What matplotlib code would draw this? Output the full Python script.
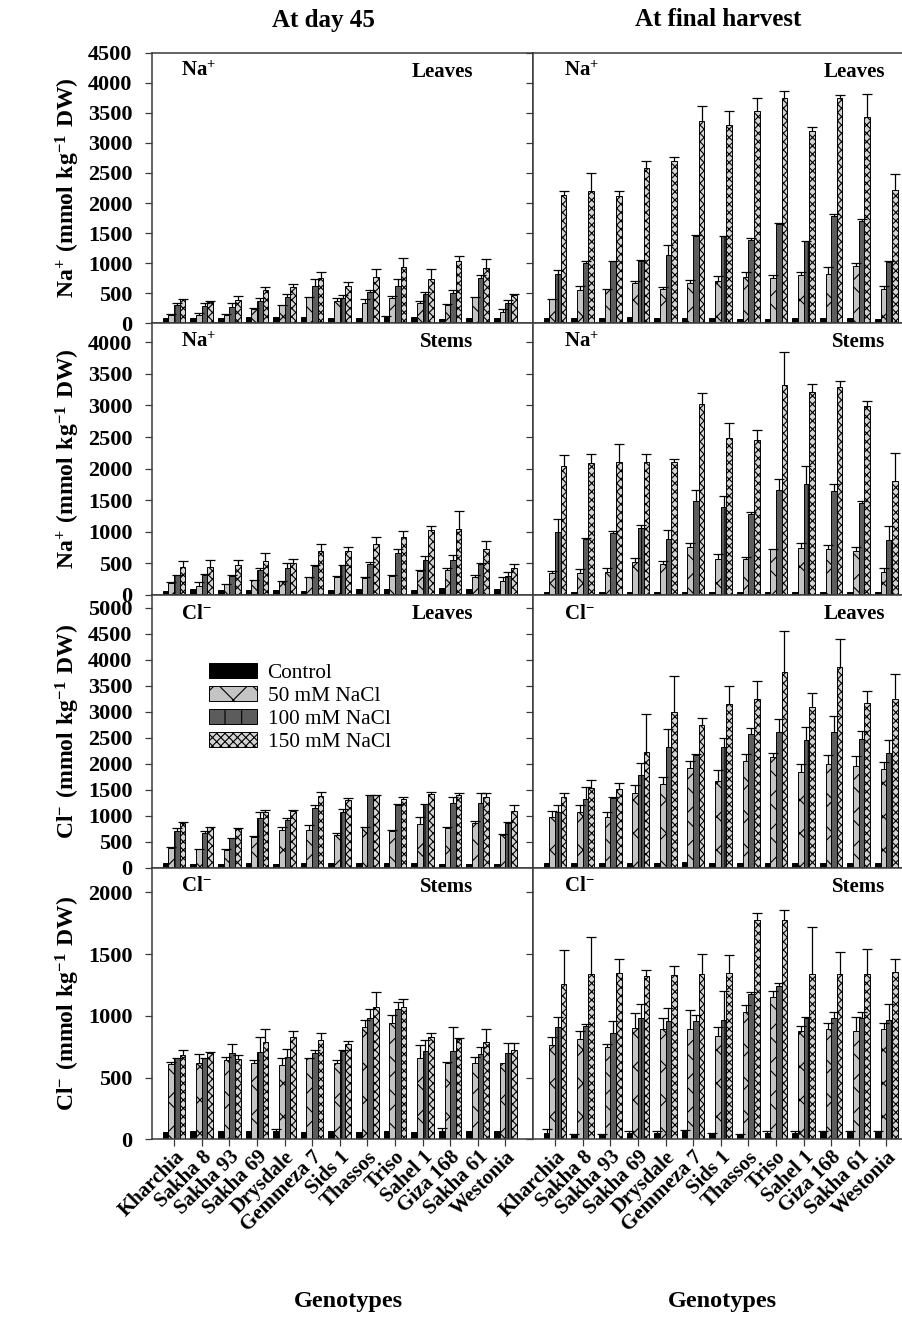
import numpy as np
import matplotlib
matplotlib.use("Agg")
import matplotlib.pyplot as plt
from matplotlib.patches import Patch
from matplotlib.transforms import ScaledTranslation

plt.rcParams['font.family'] = ['Liberation Serif', 'DejaVu Serif']
plt.rcParams['mathtext.fontset'] = 'custom'
plt.rcParams['mathtext.rm'] = 'Liberation Serif'
plt.rcParams['mathtext.bf'] = 'Liberation Serif:bold'
plt.rcParams['hatch.linewidth'] = 0.8

genotypes = ['Kharchia', 'Sakha 8', 'Sakha 93', 'Sakha 69', 'Drysdale', 'Gemmeza 7',
             'Sids 1', 'Thassos', 'Triso', 'Sahel 1', 'Giza 168', 'Sakha 61', 'Westonia']
treatments = ['Control', '50 mM NaCl', '100 mM NaCl', '150 mM NaCl']

# Na+ leaves, day 45  (means / standard errors, control, 50, 100, 150 mM)
na_leaf_d45 = [[80, 80, 80, 100, 100, 110, 95, 95, 100, 100, 65, 95, 95],
               [140, 140, 140, 230, 300, 435, 375, 330, 415, 340, 305, 440, 190],
               [305, 290, 275, 370, 435, 625, 425, 525, 620, 485, 510, 755, 330],
               [400, 360, 385, 550, 600, 760, 620, 775, 930, 740, 1030, 915, 465]]
na_leaf_d45_se = [[0, 0, 0, 0, 0, 0, 0, 0, 20, 0, 0, 0, 0],
                  [15, 35, 10, 20, 5, 5, 45, 70, 40, 35, 10, 5, 40],
                  [25, 55, 55, 45, 60, 115, 45, 30, 110, 35, 50, 50, 55],
                  [10, 5, 65, 55, 60, 85, 75, 130, 150, 165, 90, 150, 30]]

# Na+ leaves, final harvest
na_leaf_fin = [[90, 90, 90, 100, 90, 90, 80, 75, 75, 90, 80, 85, 75],
               [400, 560, 570, 670, 575, 670, 700, 770, 760, 810, 825, 955, 575],
               [825, 1010, 1030, 1040, 1135, 1455, 1455, 1390, 1650, 1370, 1790, 1700, 1020],
               [2130, 2200, 2110, 2590, 2700, 3360, 3300, 3530, 3750, 3200, 3740, 3430, 2225]]
na_leaf_fin_se = [[0, 0, 0, 0, 0, 0, 0, 0, 0, 0, 0, 0, 0],
                  [5, 55, 5, 30, 30, 55, 90, 80, 40, 40, 110, 55, 40],
                  [55, 20, 5, 20, 175, 15, 5, 25, 20, 5, 35, 35, 10],
                  [70, 300, 85, 110, 65, 260, 225, 220, 120, 70, 55, 390, 250]]

# Na+ stems, day 45
na_stem_d45 = [[70, 90, 80, 80, 80, 70, 80, 90, 90, 80, 105, 90, 100],
               [190, 150, 170, 240, 215, 285, 290, 270, 305, 375, 390, 285, 215],
               [310, 310, 295, 400, 420, 455, 475, 495, 670, 550, 550, 495, 305],
               [445, 445, 480, 545, 510, 690, 690, 800, 920, 1035, 1050, 735, 435]]
na_stem_d45_se = [[0, 0, 0, 0, 0, 0, 0, 0, 0, 0, 0, 0, 0],
                  [15, 55, 5, 5, 10, 5, 5, 10, 5, 15, 35, 25, 65],
                  [10, 15, 15, 30, 90, 20, 5, 35, 55, 65, 80, 10, 65],
                  [95, 115, 80, 125, 65, 125, 65, 115, 85, 55, 280, 120, 60]]

# Na+ stems, final harvest
na_stem_fin = [[55, 55, 55, 55, 55, 55, 55, 55, 55, 55, 55, 55, 55],
               [345, 355, 360, 520, 495, 755, 565, 565, 725, 750, 725, 700, 370],
               [1000, 890, 980, 1055, 890, 1485, 1390, 1285, 1660, 1760, 1650, 1460, 870],
               [2045, 2090, 2105, 2105, 2105, 3020, 2485, 2455, 3330, 3215, 3290, 2985, 1800]]
na_stem_fin_se = [[0, 0, 0, 0, 0, 0, 0, 0, 0, 0, 0, 0, 0],
                  [40, 55, 70, 70, 50, 65, 80, 30, 10, 70, 65, 65, 55],
                  [210, 10, 30, 50, 140, 180, 170, 35, 175, 275, 105, 20, 215],
                  [165, 135, 285, 120, 45, 180, 245, 160, 510, 120, 100, 85, 455]]

# Cl- leaves, day 45
cl_leaf_d45 = [[85, 70, 70, 85, 70, 100, 85, 85, 85, 85, 70, 70, 65],
               [375, 355, 340, 600, 730, 730, 620, 775, 715, 845, 755, 855, 625],
               [710, 675, 565, 955, 920, 1145, 1070, 1390, 1200, 1225, 1245, 1245, 870],
               [870, 780, 740, 1065, 1100, 1385, 1305, 1390, 1320, 1425, 1400, 1355, 1100]]
cl_leaf_d45_se = [[0, 0, 0, 0, 0, 0, 0, 0, 0, 0, 0, 0, 0],
                  [20, 5, 15, 5, 50, 90, 55, 5, 5, 140, 35, 45, 25],
                  [55, 25, 10, 115, 40, 60, 65, 15, 35, 5, 115, 195, 5],
                  [5, 10, 15, 45, 10, 70, 45, 10, 50, 30, 30, 75, 100]]

# Cl- leaves, final harvest
cl_leaf_fin = [[95, 85, 85, 95, 95, 115, 85, 100, 95, 95, 95, 85, 85],
               [985, 1070, 985, 1435, 1615, 1920, 1675, 2055, 2130, 1840, 1995, 1960, 1900],
               [1065, 1320, 1345, 1785, 2325, 2175, 2325, 2565, 2615, 2465, 2615, 2480, 2210],
               [1360, 1535, 1515, 2220, 3000, 2750, 3160, 3250, 3775, 3085, 3865, 3175, 3250]]
cl_leaf_fin_se = [[0, 0, 0, 0, 0, 0, 0, 0, 0, 0, 0, 0, 0],
                  [105, 130, 95, 150, 130, 130, 200, 140, 85, 150, 170, 185, 130],
                  [140, 225, 25, 225, 340, 10, 180, 125, 245, 245, 305, 150, 245],
                  [75, 145, 115, 730, 690, 135, 335, 335, 790, 285, 545, 230, 470]]

# Cl- stems, day 45
cl_stem_d45 = [[60, 68, 68, 68, 70, 60, 68, 60, 65, 62, 68, 68, 65],
               [610, 615, 645, 620, 605, 655, 615, 910, 945, 655, 615, 615, 615],
               [655, 655, 695, 705, 670, 700, 715, 980, 1055, 715, 715, 690, 700],
               [685, 700, 650, 785, 825, 805, 770, 1075, 1075, 825, 815, 785, 720]]
cl_stem_d45_se = [[0, 0, 0, 0, 10, 0, 0, 0, 0, 0, 22, 0, 0],
                  [20, 75, 20, 25, 55, 5, 25, 55, 60, 105, 15, 50, 0],
                  [5, 5, 80, 120, 60, 20, 5, 75, 55, 90, 195, 55, 80],
                  [35, 5, 30, 105, 55, 55, 30, 120, 60, 35, 5, 110, 60]]

# Cl- stems, final harvest
cl_stem_fin = [[50, 40, 40, 55, 55, 65, 50, 40, 55, 55, 60, 60, 60],
               [760, 815, 750, 900, 890, 895, 840, 1035, 1155, 880, 890, 875, 890],
               [910, 915, 865, 980, 960, 960, 965, 1175, 1245, 985, 985, 985, 965],
               [1255, 1340, 1345, 1325, 1330, 1335, 1350, 1780, 1780, 1340, 1340, 1340, 1355]]
cl_stem_fin_se = [[30, 5, 5, 10, 10, 10, 5, 5, 10, 10, 10, 10, 10],
                  [70, 60, 25, 120, 95, 150, 70, 50, 50, 35, 55, 115, 55],
                  [80, 20, 90, 115, 105, 50, 235, 20, 25, 5, 45, 50, 130],
                  [275, 295, 115, 45, 75, 165, 140, 50, 75, 380, 180, 200, 105]]

panels = [
    [(na_leaf_d45, na_leaf_d45_se), (na_leaf_fin, na_leaf_fin_se)],
    [(na_stem_d45, na_stem_d45_se), (na_stem_fin, na_stem_fin_se)],
    [(cl_leaf_d45, cl_leaf_d45_se), (cl_leaf_fin, cl_leaf_fin_se)],
    [(cl_stem_d45, cl_stem_d45_se), (cl_stem_fin, cl_stem_fin_se)],
]
ion_names = [r'$\mathbf{Na^{+}}$', r'$\mathbf{Na^{+}}$', r'$\mathbf{Cl^{-}}$', r'$\mathbf{Cl^{-}}$']
organs = ['Leaves', 'Stems', 'Leaves', 'Stems']
ylabels = [r'$\mathbf{Na^{+}\ (mmol\ kg^{-1}\ DW)}$', r'$\mathbf{Na^{+}\ (mmol\ kg^{-1}\ DW)}$',
           r'$\mathbf{Cl^{-}\ (mmol\ kg^{-1}\ DW)}$', r'$\mathbf{Cl^{-}\ (mmol\ kg^{-1}\ DW)}$']
ymax = [4500, 4300, 5250, 2200]
ytop_tick = [4500, 4000, 5000, 2000]

# bar styles
face = ['black', '#c4c4c4', '#5c5c5c', '#d4d4d4']
hatch = [None, 'x', '|', 'xxxx']

W, H = 903, 1319
fig = plt.figure(figsize=(W / 100, H / 100), dpi=100)

rows_px = [(52.7, 323.3), (323.3, 595.0), (595.0, 867.7), (867.7, 1139.3)]
cols_px = [152, 533]
ax_w = 381

x = np.arange(len(genotypes))
bw = 0.205
offs = (np.arange(4) - 1.5) * bw

for r in range(4):
    top, bot = rows_px[r]
    for c in range(2):
        ax = fig.add_axes([cols_px[c] / W, 1 - bot / H, ax_w / W, (bot - top) / H])
        means, ses = panels[r][c]
        for k in range(4):
            m = np.array(means[k], dtype=float)
            s = np.array(ses[k], dtype=float)
            ax.bar(x + offs[k], m, width=bw, color=face[k], edgecolor='black',
                   linewidth=0.7, hatch=hatch[k], zorder=2)
            ok = s > 0
            if ok.any():
                eb = ax.errorbar(x[ok] + offs[k], m[ok], yerr=[np.zeros(ok.sum()), s[ok]],
                                 fmt='none', ecolor='black', elinewidth=0.9,
                                 capsize=3.6, capthick=0.9, zorder=3)
                eb[1][0].set_visible(False)
        ax.set_xlim(-0.8, 13.0)
        ax.set_ylim(0, ymax[r])
        ax.set_yticks(np.arange(0, ytop_tick[r] + 1, 500))
        for sp in ax.spines.values():
            sp.set_color('#3a3a3a')
            sp.set_linewidth(1.1)
        ax.tick_params(axis='y', direction='out', length=5, width=0.9, pad=9,
                       labelsize=16, color='#3a3a3a')
        for lab in ax.get_yticklabels():
            lab.set_fontweight('bold')
        if c == 1:
            ax.tick_params(axis='y', labelleft=False)
        if r == 3:
            ax.set_xticks(x)
            ax.set_xticklabels(genotypes, rotation=45, ha='right', va='top',
                               rotation_mode='anchor', fontsize=15, fontweight='bold')
            ax.tick_params(axis='x', direction='out', length=5, width=0.9, pad=2,
                           color='#3a3a3a')
            off = ScaledTranslation(0.0, 0.02, fig.dpi_scale_trans)
            for lab in ax.get_xticklabels():
                lab.set_transform(lab.get_transform() + off)
        else:
            ax.set_xticks([])

        ion_x = 0.076 if c == 0 else 0.081
        org_x = 0.843 if c == 0 else 0.924
        ax.text(ion_x, 0.93, ion_names[r], transform=ax.transAxes, ha='left',
                va='center', fontsize=15)
        ax.text(org_x, 0.93, organs[r], transform=ax.transAxes, ha='right',
                va='center', fontsize=15, fontweight='bold')

        if r == 2 and c == 0:
            handles = [Patch(facecolor=face[k], edgecolor='black', hatch=hatch[k],
                             linewidth=0.7) for k in range(4)]
            ax.legend(handles, treatments, loc='upper left',
                      bbox_to_anchor=(0.15, 0.75), frameon=False, fontsize=15.3,
                      handlelength=2.25, handleheight=0.7, handletextpad=0.5,
                      labelspacing=0.15, borderpad=0, borderaxespad=0)

    fig.text(68 / W, 1 - (top + bot) / 2 / H, ylabels[r], rotation=90,
             ha='center', va='center', fontsize=17)

fig.text(323 / W, 1 - 20 / H, 'At day 45', ha='center', va='center',
         fontsize=18, fontweight='bold')
fig.text(718 / W, 1 - 20 / H, 'At final harvest', ha='center', va='center',
         fontsize=18, fontweight='bold')
fig.text(348 / W, 1 - 1301 / H, 'Genotypes', ha='center', va='center',
         fontsize=17.5, fontweight='bold')
fig.text(722 / W, 1 - 1301 / H, 'Genotypes', ha='center', va='center',
         fontsize=17.5, fontweight='bold')

fig.savefig('out.png', dpi=100)
